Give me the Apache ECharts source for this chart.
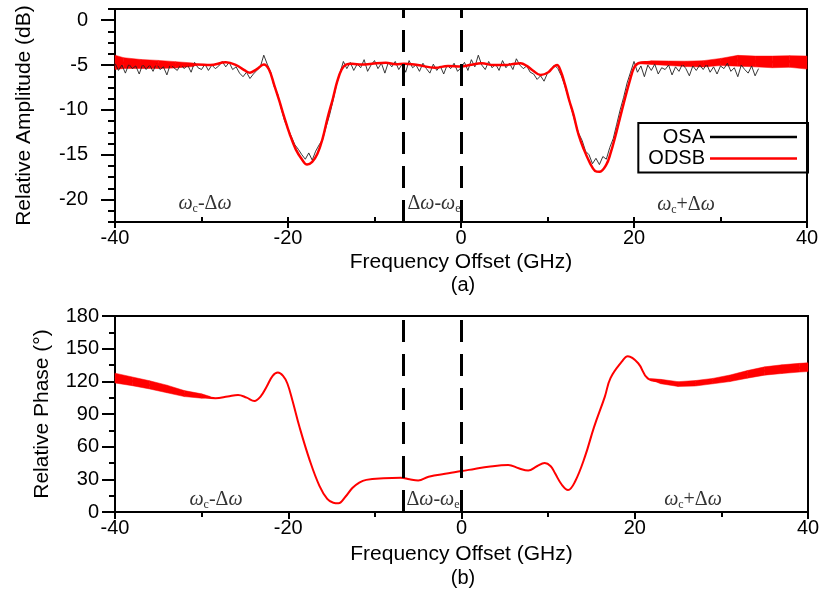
<!DOCTYPE html>
<html>
<head>
<meta charset="utf-8">
<script src="https://cdn.jsdelivr.net/npm/echarts@6/dist/echarts.min.js"></script>
<style>
  html, body { margin: 0; padding: 0; background: #fff; }
  #chart { width: 830px; height: 594px; }
</style>
</head>
<body>
<div id="chart"></div>
<script>
// (a) relative amplitude, ODSB (red) trace
const ampFreq = [-40, -38, -36, -34, -32, -30.5, -29, -27.2, -26, -25, -24.4, -23.6, -22.8, -22.2, -21.6, -21.0, -20.5, -19.8, -19.1, -18.4,
  -17.8, -17.2, -16.6, -16.0, -15.4, -14.8, -14.3, -13.8, -13.3, -12.6, -11.5, -10.3, -8.7, -7.5, -6.6, -5.0, -3.0, -1.5, 0, 1.0,
  2.4, 3.7, 5.1, 6.2, 6.9, 7.6, 8.3, 9.2, 10.1, 10.7, 11.1, 11.5, 12.0, 12.5, 13.0, 13.6, 14.2, 14.9, 15.5, 16.0,
  16.8, 17.3, 17.8, 18.3, 18.8, 19.5, 20.0, 20.5, 21.3, 23, 24.7, 26.5, 28.5, 30.5, 32.3, 34, 36.2, 38, 40];
const odsbAmp = [-4.7, -4.85, -4.9, -4.95, -5.0, -4.95, -5.0, -4.7, -5.0, -5.6, -5.85, -5.45, -4.95, -5.5, -7.2, -9.0, -10.6, -12.7, -14.4, -15.5,
  -16.1, -15.8, -14.9, -13.2, -10.8, -8.7, -6.8, -5.5, -4.95, -4.85, -4.95, -4.85, -4.75, -4.9, -4.85, -5.0, -5.3, -5.1, -5.15, -5.0,
  -4.8, -5.0, -5.0, -4.85, -4.8, -5.1, -5.6, -6.1, -5.8, -5.2, -5.0, -5.6, -7.1, -8.9, -10.5, -12.8, -14.4, -15.9, -16.8, -16.9,
  -16.1, -14.8, -13.1, -11.2, -9.3, -6.8, -5.3, -4.8, -4.7, -4.8, -4.8, -4.9, -4.85, -4.6, -4.5, -4.6, -4.65, -4.6, -4.7];

// noisy red band edges at both ends of (a)
const ampBandLFreq = [-40, -39, -37, -35, -33, -31, -30.5];
const ampBandLLow  = [-5.5, -5.38, -5.38, -5.38, -5.32, -5.17, -4.97];
const ampBandLHigh = [-3.9, -4.18, -4.38, -4.48, -4.62, -4.77, -4.93];
const ampBandRFreq = [20.5, 22, 24, 26, 28, 30, 32, 34, 36, 38, 40];
const ampBandRLow  = [-4.85, -4.93, -5.05, -5.17, -5.21, -5.06, -5.12, -5.2, -5.3, -5.25, -5.45];
const ampBandRHigh = [-4.75, -4.53, -4.55, -4.57, -4.51, -4.26, -3.92, -4.0, -4.0, -3.95, -4.0];

// (a) OSA (black) trace, one value every 0.4 GHz from -40 GHz
const osaStart = -40, osaStep = 0.4;
const osaAmp = [
  -4.8, -5.6, -5.0, -5.9, -4.9, -5.4, -5.1, -6.0, -4.9, -5.5,
  -5.0, -5.7, -4.8, -5.5, -5.2, -6.1, -4.9, -5.3, -5.6, -4.9,
  -5.4, -5.0, -5.8, -4.7, -5.3, -5.5, -4.9, -5.6, -5.0, -5.4,
  -5.1, -4.6, -5.2, -4.7, -5.5, -5.2, -5.9, -6.3, -5.8, -6.5,
  -6.0, -5.6, -5.2, -3.9, -4.9, -5.8, -7.4, -8.2, -9.8, -11.2,
  -12.1, -13.0, -13.9, -14.4, -15.0, -15.5, -14.8, -15.6, -14.6, -13.9,
  -13.3, -11.9, -10.6, -9.0, -7.2, -5.9, -4.6, -5.4, -4.7, -5.6,
  -4.9, -5.3, -4.4, -5.7, -5.0, -4.5, -5.4, -4.8, -5.9, -4.7,
  -5.2, -4.6, -5.5, -4.9, -5.8, -4.5, -5.3, -5.0, -5.7, -4.8,
  -5.4, -5.9, -4.9, -5.6, -5.1, -6.0, -5.0, -5.4, -4.8, -5.7,
  -5.3, -4.7, -5.6, -4.4, -5.2, -3.9, -5.0, -5.5, -4.6, -5.3,
  -4.9, -5.6, -4.5, -5.3, -4.8, -5.5, -4.3, -5.0, -5.4, -5.1,
  -5.8, -6.0, -6.6, -6.2, -6.8, -5.9, -5.5, -5.0, -5.4, -6.2,
  -7.3, -8.6, -10.0, -11.4, -12.6, -13.4, -14.6, -15.0, -16.0, -15.4,
  -16.1, -15.2, -15.5, -14.2, -13.2, -11.6, -10.0, -8.6, -7.0, -5.8,
  -4.6, -5.8, -5.1, -6.3, -5.0, -5.6, -4.9, -6.0, -5.3, -5.5,
  -5.0, -6.1, -5.2, -5.7, -4.9, -5.4, -6.2, -5.1, -5.6, -5.0,
  -5.5, -4.9, -5.8, -5.2, -6.0, -5.1, -5.4, -4.8, -5.7, -5.3,
  -6.3, -5.0, -5.5, -5.9, -5.1, -6.2, -5.4];

// (b) relative phase, ODSB
const phaseFreq = [-40, -38, -36, -34, -32.5, -30.2, -28.4, -27, -25.8, -24.8, -23.9, -23.2, -22.5, -21.8, -21.2, -20.6, -20.1, -19.5, -18.7, -17.5,
  -16.4, -15.5, -14.8, -14.2, -13.4, -12.6, -11.8, -11.0, -9.0, -7.0, -6.0, -5.0, -3.8, -1.5, 0, 1.5, 3.1, 5.4, 6.6, 7.7,
  8.7, 9.6, 10.3, 10.8, 11.6, 12.3, 13.1, 14.25, 15.3, 16.55, 17.2, 18.5, 19.2, 20.4, 21.5, 23.1, 25, 26.8, 28.5, 30.4,
  32.3, 34.2, 36, 38, 40];
const odsbPhase = [123, 120, 116.5, 113, 109, 106.5, 104.5, 106, 107.5, 105, 102, 106, 115, 125, 128, 125, 118, 102, 78, 47,
  24, 12, 8.5, 8, 14, 22, 27, 29.5, 31, 31.5, 30, 29, 32.4, 35.5, 37.6, 39.5, 41.6, 43.2, 40.1, 38,
  42, 44.9, 42, 35.5, 24.8, 20.2, 27.8, 50.8, 78, 106, 123, 138, 143, 136.6, 122.7, 119.7, 117.5, 118, 119.7, 121.8,
  125, 128.8, 130.5, 131.9, 133];
const phBandLFreq = [-40, -38, -36, -34, -32, -30, -29];
const phBandLLow  = [118.5, 116, 113, 109.5, 106, 104.5, 104.5];
const phBandLHigh = [127.5, 124, 120.5, 116.5, 111.5, 108.5, 106];
const phBandRFreq = [21.8, 23, 25, 27, 29, 31, 33, 35, 37, 39, 40];
const phBandRLow  = [121.5, 117.8, 115.3, 115.7, 117.7, 119.8, 122.9, 125.7, 127.2, 128.5, 129];
const phBandRHigh = [122.5, 121.8, 119.7, 120.7, 122.7, 125.8, 129.9, 133.3, 135.2, 136.5, 137];

const dashFreq = [-6.7, 0];
const ampTicks = [-20, -15, -10, -5, 0];

const RED = '#ff0000';
const FONT = 'Liberation Sans';
const SERIF = 'Liberation Serif';

function pairs(xs, ys) {
    return xs.map((x, i) => [x, ys[i]]);
}

// filled band between low and high edges, one quad per segment
function band(xs, lo, hi, axis) {
    const segs = [];
    for (let i = 0; i < xs.length - 1; i++) {
        segs.push([xs[i], lo[i], hi[i], xs[i + 1], lo[i + 1], hi[i + 1]]);
    }
    return {
        type: 'custom', xAxisIndex: axis, yAxisIndex: axis, silent: true,
        data: segs,
        encode: { x: [0, 3], y: [1, 2, 4, 5] },
        renderItem: (params, api) => {
            const a = api.coord([api.value(0), api.value(1)]);
            const b = api.coord([api.value(3), api.value(4)]);
            const c = api.coord([api.value(3), api.value(5)]);
            const d = api.coord([api.value(0), api.value(2)]);
            return {
                type: 'polygon',
                shape: { points: [a, b, c, d] },
                style: { fill: RED, stroke: RED, lineWidth: 0.5 }
            };
        }
    };
}

const dashLine = {
    silent: true,
    symbol: ['none', 'none'],
    label: { show: false },
    lineStyle: { color: '#000', width: 3, type: [22, 12] },
    data: dashFreq.map(f => ({ xAxis: f }))
};

const osaData = osaAmp.map((v, i) => [osaStart + i * osaStep, v]);

const labelText = (x, y, txt) => ({
    type: 'text', x: x, y: y, silent: true,
    style: {
        text: txt, align: 'center', verticalAlign: 'middle',
        fill: '#333',
        rich: {
            w: { fontFamily: SERIF, fontStyle: 'italic', fontSize: 20, lineHeight: 22, fill: '#333' },
            n: { fontFamily: SERIF, fontSize: 20, lineHeight: 22, fill: '#333' },
            s: { fontFamily: SERIF, fontSize: 12, lineHeight: 12, verticalAlign: 'bottom', fill: '#333' }
        }
    }
});

const lowerTxt = '{w|ω}{s|c}{n|-Δ}{w|ω}';
const midTxt = '{n|Δ}{w|ω}{n|-}{w|ω}{s|e}';
const upperTxt = '{w|ω}{s|c}{n|+Δ}{w|ω}';

const tickStyle = { color: '#000', width: 2 };

const chart = echarts.init(document.getElementById('chart'));

chart.setOption({
    animation: false,
    backgroundColor: '#fff',
    grid: [
        { left: 115, right: 23, top: 9, height: 213, show: true, borderColor: '#000', borderWidth: 2 },
        { left: 115, right: 22, top: 316, height: 196, show: true, borderColor: '#000', borderWidth: 2 }
    ],
    legend: {
        data: ['OSA', 'ODSB'],
        icon: 'rect',
        orient: 'vertical',
        align: 'right',
        right: 22,
        top: 123,
        itemWidth: 87,
        itemHeight: 2.5,
        itemGap: 1.5,
        padding: [4, 11, 4, 10],
        borderColor: '#000',
        borderWidth: 2,
        textStyle: { fontFamily: FONT, fontSize: 20, color: '#000' }
    },
    xAxis: [
        {
            type: 'value', gridIndex: 0, min: -40, max: 40, interval: 20, position: 'bottom',
            name: 'Frequency Offset (GHz)', nameLocation: 'middle', nameGap: 30,
            nameTextStyle: { fontFamily: FONT, fontSize: 21, color: '#000' },
            axisLine: { onZero: false, lineStyle: { color: '#000', width: 2 } },
            axisTick: { length: 6, lineStyle: tickStyle },
            axisLabel: { fontFamily: FONT, fontSize: 20, color: '#000', margin: 6 },
            splitLine: { show: false }
        },
        {
            type: 'value', gridIndex: 0, min: -40, max: 40, interval: 10, position: 'bottom',
            axisLine: { show: false, onZero: false },
            axisTick: { inside: true, length: 5, lineStyle: tickStyle },
            axisLabel: { show: false },
            splitLine: { show: false }
        },
        {
            type: 'value', gridIndex: 1, min: -40, max: 40, interval: 20, position: 'bottom',
            name: 'Frequency Offset (GHz)', nameLocation: 'middle', nameGap: 32,
            nameTextStyle: { fontFamily: FONT, fontSize: 21, color: '#000' },
            axisLine: { onZero: false, lineStyle: { color: '#000', width: 2 } },
            axisTick: { length: 7, lineStyle: tickStyle },
            minorTick: { show: true, splitNumber: 2, length: 5, lineStyle: tickStyle },
            axisLabel: { fontFamily: FONT, fontSize: 20, color: '#000', margin: 6 },
            splitLine: { show: false }
        }
    ],
    yAxis: [
        {
            type: 'value', gridIndex: 0, min: -22.5, max: 1.25, position: 'left',
            name: 'Relative Amplitude (dB)', nameLocation: 'middle', nameGap: 80,
            nameTextStyle: { fontFamily: FONT, fontSize: 21, color: '#000' },
            axisLine: { onZero: false, lineStyle: { color: '#000', width: 2 } },
            axisTick: { length: 14, customValues: ampTicks, lineStyle: tickStyle },
            axisLabel: { fontFamily: FONT, fontSize: 20, color: '#000', margin: 27, customValues: ampTicks },
            splitLine: { show: false }
        },
        {
            type: 'value', gridIndex: 0, min: -22.5, max: 1.25, interval: 1.25, position: 'left',
            axisLine: { show: false, onZero: false },
            axisTick: { length: 7, lineStyle: tickStyle },
            axisLabel: { show: false },
            splitLine: { show: false }
        },
        {
            type: 'value', gridIndex: 1, min: 0, max: 180, interval: 30, position: 'left',
            name: 'Relative Phase (°)', nameLocation: 'middle', nameGap: 62,
            nameTextStyle: { fontFamily: FONT, fontSize: 21, color: '#000' },
            axisLine: { onZero: false, lineStyle: { color: '#000', width: 2 } },
            axisTick: { length: 13, lineStyle: tickStyle },
            minorTick: { show: true, splitNumber: 2, length: 6, lineStyle: tickStyle },
            axisLabel: { fontFamily: FONT, fontSize: 20, color: '#000', margin: 16 },
            splitLine: { show: false }
        }
    ],
    series: [
        {
            name: 'OSA', type: 'line', xAxisIndex: 0, yAxisIndex: 0,
            data: osaData, symbol: 'none', showSymbol: false,
            color: '#000',
            lineStyle: { color: '#222', width: 1, opacity: 0.9 }
        },
        band(ampBandLFreq, ampBandLLow, ampBandLHigh, 0),
        band(ampBandRFreq, ampBandRLow, ampBandRHigh, 0),
        {
            name: 'ODSB', type: 'line', xAxisIndex: 0, yAxisIndex: 0,
            data: pairs(ampFreq, odsbAmp), symbol: 'none', showSymbol: false, smooth: 0.4,
            color: RED,
            lineStyle: { color: RED, width: 2.5 },
            markLine: dashLine
        },
        band(phBandLFreq, phBandLLow, phBandLHigh, 2),
        band(phBandRFreq, phBandRLow, phBandRHigh, 2),
        {
            name: 'ODSB phase', type: 'line', xAxisIndex: 2, yAxisIndex: 2,
            data: pairs(phaseFreq, odsbPhase), symbol: 'none', showSymbol: false, smooth: 0.4,
            lineStyle: { color: RED, width: 2 },
            markLine: dashLine
        }
    ],
    graphic: [
        labelText(205, 204, lowerTxt),
        labelText(434, 204, midTxt),
        labelText(686, 205, upperTxt),
        labelText(216, 500, lowerTxt),
        labelText(433, 500, midTxt),
        labelText(693, 500, upperTxt),
        { type: 'text', x: 463, y: 285, silent: true,
          style: { text: '(a)', align: 'center', verticalAlign: 'middle', fontFamily: FONT, fontSize: 20, fill: '#000' } },
        { type: 'text', x: 463, y: 578, silent: true,
          style: { text: '(b)', align: 'center', verticalAlign: 'middle', fontFamily: FONT, fontSize: 20, fill: '#000' } }
    ]
});
</script>
</body>
</html>
